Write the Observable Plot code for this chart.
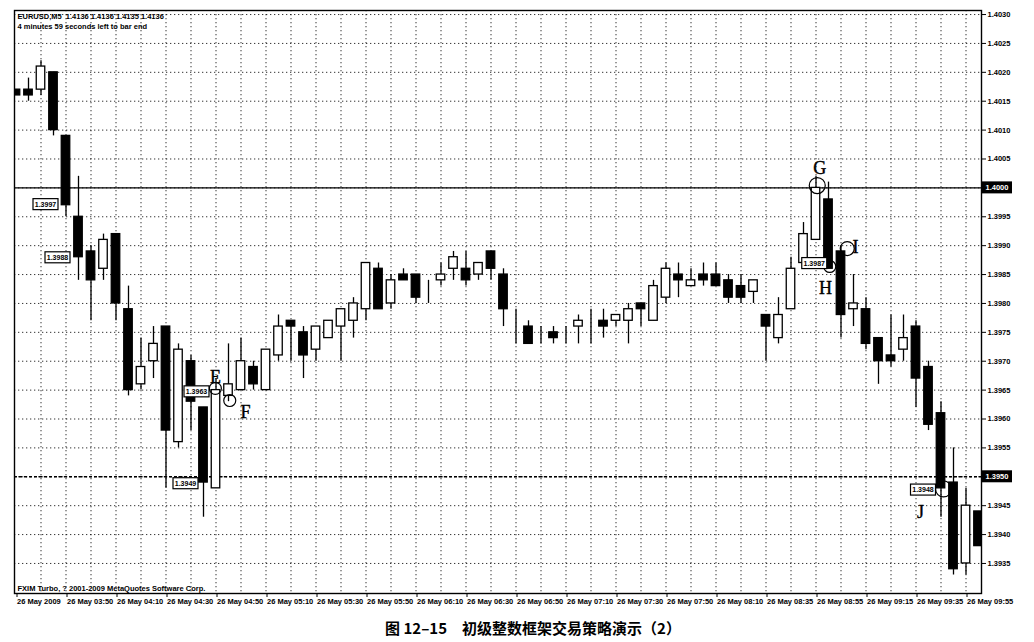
<!DOCTYPE html>
<html><head><meta charset="utf-8">
<script src="https://cdn.jsdelivr.net/npm/d3@7"></script>
<script src="https://cdn.jsdelivr.net/npm/@observablehq/plot@0.6"></script>
<style>
body{margin:0;background:#fff;width:1034px;height:642px;overflow:hidden;position:relative;}
#chart{position:absolute;left:0;top:0;}
#caption{position:absolute;top:617px;left:16px;width:1034px;text-align:center;font:bold 15px "Noto Sans CJK SC",sans-serif;color:#000;white-space:pre;}
</style></head><body>
<div id="chart"></div>
<div id="caption">图 12–15　初级整数框架交易策略演示（2）</div>
<script>
// ---- data ----
const openP  = [1.4017,1.4017,1.4017,1.4020,1.4009,1.3995,1.3989,1.3986,1.3992,1.3979,
                1.3966,1.3970,1.3976,1.3956,1.3970,1.3962,1.3948,1.3964,1.3965,1.3969,
                1.3965,1.3971,1.3977,1.3975,1.3972,1.3974,1.3976,1.3977,1.3979,1.3986,
                1.3980,1.3985,1.3985,1.3983,1.3984,1.3986,1.3986,1.3985,1.3989,1.3985,
                1.3977,1.3976,1.3974,1.3975,1.3975,1.3976,1.3976,1.3977,1.3977,1.3977,
                1.3980,1.3977,1.3981,1.3985,1.3983,1.3985,1.3985,1.3984,1.3983,1.3982,
                1.3978,1.3974,1.3979,1.3987,1.3991,1.3998,1.3989,1.3979,1.3979,1.3974,
                1.3971,1.3972,1.3976,1.3969,1.3961,1.3949,1.3935,1.3944];
const highP  = [1.4017,1.4019,1.4022,1.4020,1.4009,1.4002,1.3990,1.3992,1.3992,1.3983,
                1.3974,1.3976,1.3976,1.3973,1.3971,1.3962,1.3967,1.3973,1.3974,1.3970,
                1.3972,1.3978,1.3977,1.3976,1.3976,1.3977,1.3979,1.3981,1.3987,1.3987,
                1.3985,1.3986,1.3985,1.3984,1.3987,1.3989,1.3989,1.3987,1.3989,1.3986,
                1.3979,1.3977,1.3976,1.3976,1.3976,1.3978,1.3979,1.3979,1.3978,1.3980,
                1.3980,1.3984,1.3987,1.3987,1.3986,1.3987,1.3987,1.3985,1.3985,1.3984,
                1.3978,1.3981,1.3988,1.3994,1.4002,1.4001,1.3990,1.3985,1.3981,1.3974,
                1.3978,1.3978,1.3977,1.3970,1.3963,1.3955,1.3948,1.3944];
const lowP   = [1.4016,1.4015,1.4016,1.4009,1.3995,1.3984,1.3977,1.3984,1.3977,1.3964,
                1.3965,1.3967,1.3948,1.3955,1.3958,1.3943,1.3948,1.3963,1.3965,1.3965,
                1.3965,1.3970,1.3970,1.3967,1.3970,1.3974,1.3970,1.3974,1.3977,1.3979,
                1.3979,1.3984,1.3980,1.3980,1.3983,1.3984,1.3983,1.3984,1.3984,1.3976,
                1.3973,1.3973,1.3973,1.3973,1.3973,1.3973,1.3973,1.3974,1.3976,1.3973,
                1.3976,1.3977,1.3980,1.3981,1.3983,1.3983,1.3983,1.3980,1.3980,1.3980,
                1.3970,1.3973,1.3979,1.3986,1.3991,1.3986,1.3974,1.3976,1.3972,1.3966,
                1.3969,1.3970,1.3962,1.3958,1.3943,1.3933,1.3933,1.3938];
const closeP = [1.4016,1.4016,1.4021,1.4010,1.3997,1.3988,1.3984,1.3991,1.3980,1.3965,
                1.3969,1.3973,1.3958,1.3972,1.3963,1.3949,1.3965,1.3966,1.3970,1.3966,
                1.3972,1.3976,1.3976,1.3971,1.3976,1.3977,1.3979,1.3980,1.3987,1.3979,
                1.3984,1.3984,1.3981,1.3983,1.3985,1.3988,1.3984,1.3987,1.3986,1.3979,
                1.3977,1.3973,1.3974,1.3974,1.3975,1.3977,1.3976,1.3976,1.3978,1.3979,
                1.3979,1.3983,1.3986,1.3984,1.3984,1.3984,1.3983,1.3981,1.3981,1.3984,
                1.3976,1.3978,1.3986,1.3992,1.4000,1.3986,1.3978,1.3980,1.3973,1.3970,
                1.3970,1.3974,1.3967,1.3959,1.3948,1.3934,1.3945,1.3938];
const xLabels = ["26 May 2009","26 May 03:50","26 May 04:10","26 May 04:30","26 May 04:50",
                 "26 May 05:10","26 May 05:30","26 May 05:50","26 May 06:10","26 May 06:30",
                 "26 May 06:50","26 May 07:10","26 May 07:30","26 May 07:50","26 May 08:10",
                 "26 May 08:35","26 May 08:55","26 May 09:15","26 May 09:35","26 May 09:55"];
const xTickBars = [0,4,8,12,16,20,24,28,32,36,40,44,48,52,56,60,64,68,72,76];
const gridBars = [2,4,6,8,10,12,14,16,18,20,22,24,26,28,30,32,34,36,38,40,42,44,46,48,50,52,54,56,58,60,62,64,66,68,70,72,74,76];
const yTicks = [1.3935,1.3940,1.3945,1.3950,1.3955,1.3960,1.3965,1.3970,1.3975,1.3980,
                1.3985,1.3990,1.3995,1.4000,1.4005,1.4010,1.4015,1.4020,1.4025,1.4030];
const levelSolid = [1.4000];
const levelDashed = [1.3950];
const header = "EURUSD,M5  1.4136 1.4136 1.4135 1.4136\n4 minutes 59 seconds left to bar end";
const footer = "FXIM Turbo, ? 2001-2009 MetaQuotes Software Corp.";
// annotations
const circleBar   = [15.95, 17.1, 64.1, 65.1, 66.5, 74.2];
const circlePrice = [1.39653, 1.39632, 1.40004, 1.39864, 1.39895, 1.39479];
const circleR     = [6, 6, 8, 6, 7, 8];
const letterText  = ["E","F","G","H","I","J"];
const letterBar   = [15.96, 18.36, 64.3, 64.76, 67.16, 72.36];
const letterPrice = [1.39672, 1.39611, 1.40034, 1.39826, 1.39897, 1.39438];
const boxText  = ["1.3997","1.3988","1.3963","1.3949","1.3987","1.3948"];
const boxBar   = [3.4, 4.36, 15.48, 14.6, 64.9, 73.6];
const boxPrice = [1.39971, 1.39879, 1.39647, 1.39488, 1.39869, 1.39477];

// ---- build ----
const bars = openP.map((o,i)=>({i, open:o, high:highP[i], low:lowP[i], close:closeP[i]}));
const circles = circleBar.map((b,k)=>({i:b, p:circlePrice[k], r:circleR[k]}));
const letters = letterText.map((t,k)=>({t, i:letterBar[k], p:letterPrice[k]}));
const levels = levelSolid.concat(levelDashed);
const FONT = "'Liberation Sans',Arial,sans-serif";

const chart = Plot.plot({
  width:1034, height:612,
  marginLeft:14, marginRight:53, marginTop:10, marginBottom:19,
  x:{type:"linear", domain:[-0.12,77.24]},
  y:{domain:[1.39298,1.40307]},
  r:{type:"identity"},
  style:{fontFamily:FONT, fontSize:"7.5px", fontWeight:"bold", color:"#000", background:"#fff"},
  marks:[
    Plot.ruleY(yTicks, {stroke:"#000", strokeDasharray:"1.3,2.7", strokeWidth:1, strokeOpacity:0.8}),
    Plot.ruleX(gridBars, {stroke:"#000", strokeDasharray:"1.3,2.7", strokeWidth:1, strokeOpacity:0.8}),
    Plot.ruleY(levelSolid, {stroke:"#000", strokeWidth:1.4}),
    Plot.ruleY(levelDashed, {stroke:"#000", strokeWidth:1.4, strokeDasharray:"3,2"}),
    Plot.ruleX(bars, {x:"i", y1:"low", y2:"high", stroke:"#000", strokeWidth:1.3, clip:true}),
    Plot.rect(bars, {x1:d=>d.i-0.34, x2:d=>d.i+0.34, y1:"open", y2:"close", clip:true,
      fill:d=>d.close>d.open?"#fff":"#000", stroke:"#000", strokeWidth:1.3}),
    Plot.dot(circles, {x:"i", y:"p", r:"r", stroke:"#000", fill:"none", strokeWidth:1.2}),
    Plot.text(letters, {x:"i", y:"p", text:"t", fontFamily:"'Liberation Serif','DejaVu Serif',serif",
      fontSize:18, fontWeight:"normal", fill:"#000", stroke:"#000", strokeWidth:0.4}),
    Plot.axisY({anchor:"right", ticks:yTicks, tickFormat:d=>levels.includes(d)?"":d.toFixed(4),
      tickSize:4, tickPadding:2, label:null}),
    Plot.axisX({ticks:xTickBars, tickFormat:d=>xLabels[Math.round(d/4)], textAnchor:"start",
      tickSize:4, tickPadding:1, dx:1, label:null}),
    Plot.text([header], {frameAnchor:"top-left", dx:3, dy:2, lineAnchor:"top", lineHeight:1.3, textAnchor:"start"}),
    Plot.text([footer], {frameAnchor:"bottom-left", dx:3, dy:-3, lineAnchor:"bottom", textAnchor:"start"}),
    Plot.frame({stroke:"#000", strokeWidth:1.4})
  ]
});
document.getElementById("chart").appendChild(chart);

// price boxes and highlighted right-axis labels, positioned via Plot's scales
const xs = chart.scale("x"), ys = chart.scale("y");
const svg = d3.select(chart);
const g = svg.append("g").attr("font-family", FONT).attr("font-size", 7).attr("font-weight","bold");
boxText.forEach((t,k)=>{
  const xr = xs.apply(boxBar[k]), yc = ys.apply(boxPrice[k]);
  g.append("rect").attr("x", xr-25).attr("y", yc-5.5).attr("width",25).attr("height",11)
    .attr("fill","#fff").attr("stroke","#000").attr("stroke-width",1.2);
  g.append("text").attr("x", xr-12.5).attr("y", yc).attr("dy","0.35em").attr("text-anchor","middle").text(t);
});
levels.forEach(v=>{
  const yc = ys.apply(v);
  g.append("rect").attr("x", 982).attr("y", yc-6).attr("width",30).attr("height",12).attr("fill","#000");
  g.append("text").attr("x", 997).attr("y", yc).attr("dy","0.35em").attr("text-anchor","middle")
    .attr("fill","#fff").attr("font-size",7.5).text(v.toFixed(4));
});
</script>
</body></html>
